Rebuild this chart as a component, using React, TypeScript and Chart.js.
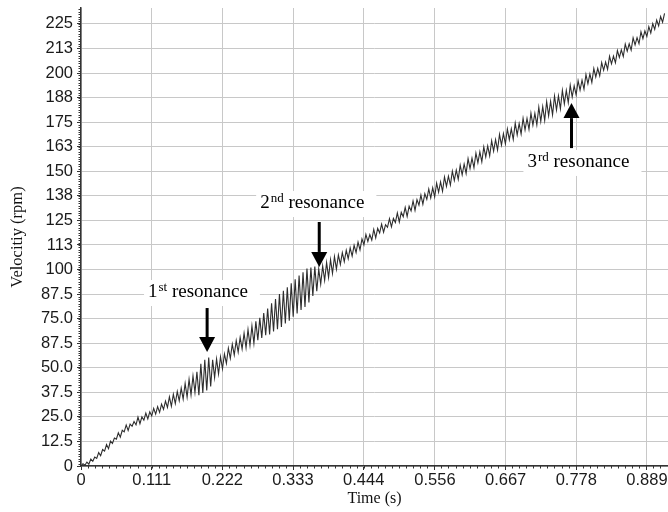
import React, { useEffect, useRef } from "react";
import { Chart, registerables } from "chart.js";

Chart.register(...registerables);

// Sampling interval of the recorded velocity signal (s)
const SAMPLE_STEP = 0.1111 / 36;

// Velocity samples (rpm), one block per 0.111 s
const velocityBlock1 = [
  0, 1.2, 0.4, 2.0, 0.9, 3.5, 2.4, 4.6, 3.9, 6.8, 5.2, 8.4, 7.6, 10.9, 8.8, 12.6, 11.5, 14.2,
  13.6, 16.9, 14.7, 18.2, 17.4, 20.9, 18.1, 21.3, 20.2, 22.6, 20.9, 24.9, 21.5, 25.0, 23.3, 26.9, 24.0, 27.6,
];
const velocityBlock2 = [
  25.5, 29.3, 26.4, 30.2, 27.3, 31.5, 28.8, 33.0, 29.8, 35.2, 30.4, 36.5, 31.8, 37.9, 33.2, 39.6, 34.0, 42.0,
  35.0, 44.1, 36.2, 45.8, 37.5, 48.0, 36.0, 52.0, 37.2, 54.0, 38.5, 55.2, 40.5, 54.0, 45.0, 54.5, 46.8, 55.6,
];
const velocityBlock3 = [
  49.5, 57.0, 52.2, 60.0, 54.8, 62.0, 56.5, 63.8, 58.0, 65.5, 59.6, 67.6, 60.2, 69.5, 61.4, 71.3, 62.5, 73.6,
  64.0, 75.4, 65.2, 77.8, 66.6, 80.2, 67.0, 82.8, 68.5, 85.0, 69.6, 87.5, 70.8, 89.2, 72.6, 91.0, 74.0, 93.0,
];
const velocityBlock4 = [
  76.0, 95.0, 77.6, 97.0, 79.4, 98.6, 81.0, 100.5, 83.2, 101.0, 86.5, 101.5, 89.0, 100.2, 92.6, 101.8, 94.5, 103.5,
  96.0, 105.0, 98.0, 106.6, 100.2, 107.4, 102.6, 108.6, 104.0, 109.8, 105.5, 111.0, 106.8, 112.3, 108.6, 114.0, 110.0, 115.6,
];
const velocityBlock5 = [
  112.6, 117.9, 114.3, 117.8, 115.0, 120.4, 116.1, 121.0, 118.6, 123.1, 119.0, 122.8, 121.5, 125.9, 121.7, 126.0, 123.9, 128.8,
  124.2, 129.1, 126.9, 131.6, 127.0, 132.2, 129.8, 134.9, 130.1, 135.6, 132.8, 137.9, 133.2, 138.6, 135.7, 141.0, 136.4, 141.6,
];
const velocityBlock6 = [
  137.0, 144.0, 139.3, 144.6, 139.8, 147.1, 142.3, 147.5, 143.0, 150.1, 145.3, 150.6, 145.9, 153.1, 148.2, 153.7, 148.9, 156.4,
  151.4, 156.7, 151.8, 159.3, 154.3, 159.9, 154.8, 162.4, 157.3, 162.9, 157.9, 165.6, 160.3, 166.1, 160.8, 168.8, 163.3, 169.2,
];
const velocityBlock7 = [
  164.0, 171.5, 166.1, 171.6, 166.2, 174.5, 168.5, 174.3, 169.0, 177.0, 171.0, 176.9, 171.4, 179.6, 173.5, 179.5, 173.6, 182.6,
  175.4, 182.9, 175.9, 185.5, 178.2, 185.6, 178.7, 188.3, 181.2, 188.4, 181.8, 191.2, 184.3, 191.2, 184.9, 193.8, 187.8, 193.5,
];
const velocityBlock8 = [
  188.9, 196.1, 191.3, 196.4, 191.8, 199.3, 194.5, 199.6, 195.2, 202.3, 198.0, 202.4, 198.6, 205.3, 201.4, 205.6, 201.9, 208.5,
  204.7, 208.6, 205.2, 211.4, 207.9, 211.8, 208.4, 214.7, 211.1, 214.9, 211.7, 217.9, 214.3, 218.0, 214.9, 221.0, 217.5, 221.4,
];
const velocityBlock9 = [218.6, 223.6, 220.4, 225.2, 222.2, 227.0, 224.0, 228.8, 225.9, 230.4];

const velocity = [
  ...velocityBlock1, ...velocityBlock2, ...velocityBlock3, ...velocityBlock4, ...velocityBlock5,
  ...velocityBlock6, ...velocityBlock7, ...velocityBlock8, ...velocityBlock9,
];

// Axes
const xTickValues = [0, 0.111, 0.222, 0.333, 0.444, 0.556, 0.667, 0.778, 0.889];
const xTickLabels = ["0", "0.111", "0.222", "0.333", "0.444", "0.556", "0.667", "0.778", "0.889"];
const yTickValues = [0, 12.5, 25, 37.5, 50, 62.5, 75, 87.5, 100, 112.5, 125, 137.5, 150, 162.5, 175, 187.5, 200, 212.5, 225];
const yTickLabels = ["0", "12.5", "25.0", "37.5", "50.0", "87.5", "75.0", "87.5", "100", "113", "125", "138", "150", "163", "175", "188", "200", "213", "225"];
const X_MIN = 0;
const X_MAX = 0.922;
const Y_MIN = 0;
const Y_MAX = 233.1;
const X_TITLE = "Time (s)";
const Y_TITLE = "Velocitiy (rpm)";

// Annotations (data coordinates)
const annotationNumbers = ["1", "2", "3"];
const annotationSups = ["st", "nd", "rd"];
const annotationWord = "resonance";
const annotationTextX = [0.1053, 0.2814, 0.7012];
const annotationTextY = [86.0, 131.3, 152.2];
const annotationArrowX = [0.1981, 0.3742, 0.7704];
const annotationArrowFrom = [80.4, 124.2, 161.8];
const annotationArrowTo = [58.0, 101.3, 184.7];

const SERIF = '"Liberation Serif", "Times New Roman", serif';
const SANS = '"Liberation Sans", Arial, Helvetica, sans-serif';

const overlayPlugin = {
  id: "overlay",
  beforeDatasetsDraw(chart: any) {
    const ctx = chart.ctx;
    const xs = chart.scales.x;
    const ys = chart.scales.y;
    ctx.save();
    annotationNumbers.forEach((num, i) => {
      const tx = xs.getPixelForValue(annotationTextX[i]);
      const ty = ys.getPixelForValue(annotationTextY[i]);
      ctx.font = `19px ${SERIF}`;
      const w1 = ctx.measureText(num).width;
      const w3 = ctx.measureText(" " + annotationWord).width;
      ctx.font = `13px ${SERIF}`;
      const w2 = ctx.measureText(annotationSups[i]).width;
      const total = w1 + 1 + w2 + w3;
      ctx.fillStyle = "#ffffff";
      ctx.fillRect(tx - 4, ty - 17, total + 16, 26);
    });
    ctx.restore();
  },
  afterDatasetsDraw(chart: any) {
    const ctx = chart.ctx;
    const xs = chart.scales.x;
    const ys = chart.scales.y;
    ctx.save();
    annotationNumbers.forEach((num, i) => {
      const tx = xs.getPixelForValue(annotationTextX[i]);
      const ty = ys.getPixelForValue(annotationTextY[i]);
      ctx.fillStyle = "#000";
      ctx.textBaseline = "alphabetic";
      ctx.textAlign = "left";
      ctx.font = `19px ${SERIF}`;
      ctx.fillText(num, tx, ty);
      const w1 = ctx.measureText(num).width;
      ctx.font = `13px ${SERIF}`;
      ctx.fillText(annotationSups[i], tx + w1 + 1, ty - 6);
      const w2 = ctx.measureText(annotationSups[i]).width;
      ctx.font = `19px ${SERIF}`;
      ctx.fillText(" " + annotationWord, tx + w1 + 1 + w2, ty);

      // arrow
      const ax = xs.getPixelForValue(annotationArrowX[i]);
      const y0 = ys.getPixelForValue(annotationArrowFrom[i]);
      const y1 = ys.getPixelForValue(annotationArrowTo[i]);
      const dir = y1 > y0 ? 1 : -1;
      const headLen = 15;
      const headHalf = 8;
      ctx.strokeStyle = "#000";
      ctx.lineWidth = 3;
      ctx.beginPath();
      ctx.moveTo(ax, y0);
      ctx.lineTo(ax, y1 - dir * headLen);
      ctx.stroke();
      ctx.beginPath();
      ctx.moveTo(ax - headHalf, y1 - dir * headLen);
      ctx.lineTo(ax + headHalf, y1 - dir * headLen);
      ctx.lineTo(ax, y1);
      ctx.closePath();
      ctx.fill();
    });
    ctx.restore();
  },
  afterDraw(chart: any) {
    const ctx = chart.ctx;
    const xs = chart.scales.x;
    const ys = chart.scales.y;
    const area = chart.chartArea;
    ctx.save();
    ctx.strokeStyle = "#333";
    ctx.lineWidth = 1;
    ctx.beginPath();
    const xMinor = (xTickValues[1] - xTickValues[0]) / 10;
    for (let k = 1; k * xMinor <= X_MAX; k++) {
      const px = Math.round(xs.getPixelForValue(k * xMinor)) + 0.5;
      ctx.moveTo(px, area.bottom);
      ctx.lineTo(px, area.bottom + 2.5);
    }
    const yMinor = (yTickValues[1] - yTickValues[0]) / 10;
    for (let k = 1; k * yMinor <= Y_MAX; k++) {
      const py = Math.round(ys.getPixelForValue(k * yMinor)) + 0.5;
      ctx.moveTo(area.left - 2.5, py);
      ctx.lineTo(area.left, py);
    }
    ctx.stroke();
    ctx.restore();
  },
};

export default function App() {
  const canvasRef = useRef<HTMLCanvasElement | null>(null);

  useEffect(() => {
    document.body.style.margin = "0";
    const canvas = canvasRef.current;
    if (!canvas) return;
    const points = velocity.map((v, i) => ({ x: i * SAMPLE_STEP, y: v }));
    const chart = new Chart(canvas, {
      type: "line",
      data: {
        datasets: [
          {
            data: points,
            borderColor: "#2e2e2e",
            borderWidth: 1.1,
            pointRadius: 0,
            tension: 0,
            fill: false,
          },
        ],
      },
      options: {
        animation: false,
        responsive: false,
        devicePixelRatio: 1,
        layout: { padding: { top: 8, right: 0, bottom: 0, left: 0 } },
        plugins: {
          legend: { display: false },
          tooltip: { enabled: false },
        },
        scales: {
          x: {
            type: "linear",
            min: X_MIN,
            max: X_MAX,
            afterBuildTicks: (s: any) => {
              s.ticks = xTickValues.map((v) => ({ value: v }));
            },
            afterFit: (s: any) => {
              s.height = 46;
              s.paddingLeft = 0;
              s.paddingRight = 0;
            },
            ticks: {
              autoSkip: false,
              maxRotation: 0,
              minRotation: 0,
              padding: 1,
              color: "#1a1a1a",
              font: { family: SANS, size: 16.5 },
              callback: (_v: any, i: number) => xTickLabels[i],
            },
            grid: { color: "#c8c8c8", lineWidth: 1, tickLength: 4, tickColor: "#333" },
            border: { color: "#333", width: 1.5 },
            title: {
              display: true,
              text: X_TITLE,
              color: "#111",
              font: { family: SERIF, size: 16 },
              padding: { top: 0, bottom: 4 },
            },
          },
          y: {
            type: "linear",
            min: Y_MIN,
            max: Y_MAX,
            afterBuildTicks: (s: any) => {
              s.ticks = yTickValues.map((v) => ({ value: v }));
            },
            afterFit: (s: any) => {
              s.width = 81;
              s.paddingTop = 0;
              s.paddingBottom = 0;
            },
            ticks: {
              autoSkip: false,
              padding: 4,
              color: "#1a1a1a",
              font: { family: SANS, size: 16.5 },
              callback: (_v: any, i: number) => yTickLabels[i],
            },
            grid: { color: "#c8c8c8", lineWidth: 1, tickLength: 4, tickColor: "#333" },
            border: { color: "#333", width: 1.5 },
            title: {
              display: true,
              text: Y_TITLE,
              color: "#111",
              font: { family: SERIF, size: 16.5 },
              padding: { top: 8, bottom: 0 },
            },
          },
        },
      },
      plugins: [overlayPlugin],
    } as any);
    return () => chart.destroy();
  }, []);

  return (
    <div style={{ width: 668, height: 512, position: "relative" }}>
      <canvas ref={canvasRef} width={668} height={512} style={{ display: "block" }} />
    </div>
  );
}
